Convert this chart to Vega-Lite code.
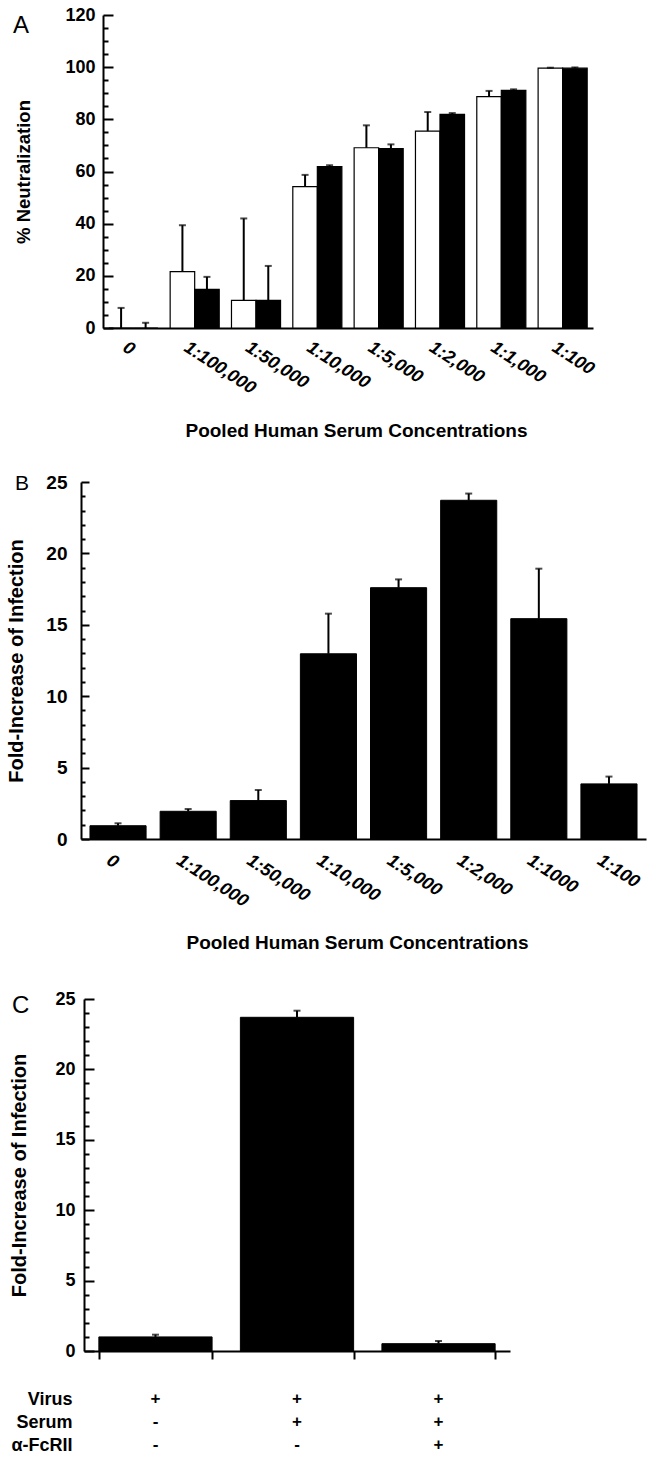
{
  "$schema": "https://vega.github.io/schema/vega-lite/v6.json",
  "background": "white",
  "padding": {"left": 6, "top": 6, "right": 5, "bottom": 0},
  "config": {
    "font": "Liberation Sans",
    "view": {"stroke": null},
    "axis": {"domainColor": "black", "domainWidth": 2, "tickColor": "black", "tickWidth": 2, "labelColor": "black", "titleColor": "black", "labelFontWeight": "bold", "titleFontWeight": "bold", "grid": false, "labelFont": "Liberation Sans", "titleFont": "Liberation Sans"},
    "title": {"font": "Liberation Sans", "color": "black", "fontWeight": "normal", "fontSize": 24, "anchor": "start", "frame": "group", "offset": 0}
  },
  "datasets": {
    "neut": [
      {"conc": "0", "series": "open", "value": 0, "upper": 7.7},
      {"conc": "0", "series": "closed", "value": 0, "upper": 2},
      {"conc": "1:100,000", "series": "open", "value": 21.6, "upper": 39.4},
      {"conc": "1:100,000", "series": "closed", "value": 14.8, "upper": 19.6},
      {"conc": "1:50,000", "series": "open", "value": 10.6, "upper": 42},
      {"conc": "1:50,000", "series": "closed", "value": 10.6, "upper": 23.8},
      {"conc": "1:10,000", "series": "open", "value": 54.2, "upper": 58.7},
      {"conc": "1:10,000", "series": "closed", "value": 61.9, "upper": 62.4},
      {"conc": "1:5,000", "series": "open", "value": 69.1, "upper": 77.7},
      {"conc": "1:5,000", "series": "closed", "value": 68.8, "upper": 70.4},
      {"conc": "1:2,000", "series": "open", "value": 75.5, "upper": 82.8},
      {"conc": "1:2,000", "series": "closed", "value": 81.9, "upper": 82.4},
      {"conc": "1:1,000", "series": "open", "value": 88.7, "upper": 90.9},
      {"conc": "1:1,000", "series": "closed", "value": 91.1, "upper": 91.5},
      {"conc": "1:100", "series": "open", "value": 99.6, "upper": 99.8},
      {"conc": "1:100", "series": "closed", "value": 99.6, "upper": 99.9}
    ],
    "fold": [
      {"conc": "0", "value": 0.93, "upper": 1.1},
      {"conc": "1:100,000", "value": 1.94, "upper": 2.1},
      {"conc": "1:50,000", "value": 2.69, "upper": 3.43},
      {"conc": "1:10,000", "value": 12.97, "upper": 15.78},
      {"conc": "1:5,000", "value": 17.6, "upper": 18.18},
      {"conc": "1:2,000", "value": 23.72, "upper": 24.19},
      {"conc": "1:1000", "value": 15.43, "upper": 18.93},
      {"conc": "1:100", "value": 3.86, "upper": 4.37}
    ],
    "block": [
      {"cond": "Virus", "value": 1.0, "upper": 1.16},
      {"cond": "Virus + Serum", "value": 23.7, "upper": 24.17},
      {"cond": "Virus + Serum + α-FcRII", "value": 0.52, "upper": 0.71}
    ],
    "table": [
      {"row": "Virus", "cond": "Virus", "sym": "+"},
      {"row": "Virus", "cond": "Virus + Serum", "sym": "+"},
      {"row": "Virus", "cond": "Virus + Serum + α-FcRII", "sym": "+"},
      {"row": "Serum", "cond": "Virus", "sym": "-"},
      {"row": "Serum", "cond": "Virus + Serum", "sym": "+"},
      {"row": "Serum", "cond": "Virus + Serum + α-FcRII", "sym": "+"},
      {"row": "α-FcRII", "cond": "Virus", "sym": "-"},
      {"row": "α-FcRII", "cond": "Virus + Serum", "sym": "-"},
      {"row": "α-FcRII", "cond": "Virus + Serum + α-FcRII", "sym": "+"}
    ]
  },
  "spacing": 38,
  "vconcat": [
    {
      "spacing": 33,
      "vconcat": [
        {
          "width": 512,
          "height": 313,
          "title": {"text": "A", "dx": -68, "dy": 36, "fontSize": 24},
          "data": {"name": "neut"},
          "encoding": {
            "x": {
              "field": "conc", "type": "nominal", "sort": null,
              "scale": {"type": "band", "range": [22, 512], "paddingInner": 0.2, "paddingOuter": 0.095},
              "axis": {"title": "Pooled Human Serum Concentrations", "titleFontSize": 19, "titleX": 275, "titleY": 93, "titleBaseline": "top", "labelAngle": 33, "labelAlign": "left", "labelBaseline": "top", "labelFontStyle": "italic", "labelFontSize": 18, "labelPadding": 10, "labelOffset": -4, "ticks": false, "labelOverlap": false, "labelBound": false}
            },
            "xOffset": {"field": "series", "type": "nominal", "sort": ["open", "closed"], "scale": {"paddingInner": 0, "paddingOuter": 0}},
            "y": {
              "field": "value", "type": "quantitative",
              "scale": {"domain": [0, 120], "nice": false},
              "axis": {"title": "% Neutralization", "titleFontSize": 18.5, "titleX": -70, "titleY": 156.5, "values": [0,5,10,15,20,25,30,35,40,45,50,55,60,65,70,75,80,85,90,95,100,105,110,115,120], "labelExpr": "datum.value % 20 === 0 ? datum.label : ''", "tickSize": {"condition": {"test": "datum.value % 20 === 0", "value": -10}, "value": -5}, "labelFontSize": 18, "labelPadding": 18, "offset": -22}
            }
          },
          "layer": [
            {
              "mark": {"type": "bar", "stroke": "black", "strokeWidth": 1.2},
              "encoding": {"fill": {"field": "series", "type": "nominal", "scale": {"domain": ["open", "closed"], "range": ["white", "black"]}, "legend": null}}
            },
            {"mark": {"type": "rule", "color": "black", "strokeWidth": 2}, "encoding": {"y2": {"field": "upper"}}},
            {"mark": {"type": "tick", "color": "black", "thickness": 2, "size": 7}, "encoding": {"y": {"field": "upper", "type": "quantitative", "title": "% Neutralization"}}}
          ]
        },
        {
          "width": 565,
          "height": 357,
          "title": {"text": "B", "dx": -66, "dy": 25, "fontSize": 21},
          "data": {"name": "fold"},
          "encoding": {
            "x": {
              "field": "conc", "type": "nominal", "sort": null,
              "scale": {"type": "band", "paddingInner": 0.2, "paddingOuter": 0.128},
              "axis": {"title": "Pooled Human Serum Concentrations", "titleFontSize": 19, "titleX": 276, "titleY": 94, "titleBaseline": "top", "labelAngle": 33, "labelAlign": "left", "labelBaseline": "top", "labelFontStyle": "italic", "labelFontSize": 18, "labelPadding": 12, "labelOffset": -5, "ticks": false, "labelOverlap": false, "labelBound": false}
            },
            "y": {
              "field": "value", "type": "quantitative",
              "scale": {"domain": [0, 25], "nice": false},
              "axis": {"title": "Fold-Increase of Infection", "titleFontSize": 20, "titleX": -55, "titleY": 178.5, "values": [0,1,2,3,4,5,6,7,8,9,10,11,12,13,14,15,16,17,18,19,20,21,22,23,24,25], "labelExpr": "datum.value % 5 === 0 ? datum.label : ''", "tickSize": {"condition": {"test": "datum.value % 5 === 0", "value": -8}, "value": -4}, "labelFontSize": 19, "labelPadding": 22}
            }
          },
          "layer": [
            {"mark": {"type": "bar", "color": "black", "stroke": "black", "strokeWidth": 1}},
            {"mark": {"type": "rule", "color": "black", "strokeWidth": 2}, "encoding": {"y2": {"field": "upper"}}},
            {"mark": {"type": "tick", "color": "black", "thickness": 2, "size": 7}, "encoding": {"y": {"field": "upper", "type": "quantitative", "title": "Fold-Increase of Infection"}}}
          ]
        }
      ]
    },
    {
      "spacing": 30,
      "vconcat": [
        {
          "width": 429,
          "height": 352,
          "title": {"text": "C", "dx": -69, "dy": 32, "fontSize": 24},
          "data": {"name": "block"},
          "encoding": {
            "x": {
              "field": "cond", "type": "nominal", "sort": null,
              "scale": {"type": "band", "range": [3, 429], "paddingInner": 0.2, "paddingOuter": 0.105},
              "axis": {"title": null, "labels": false, "ticks": true, "tickBand": "extent", "tickSize": 8, "tickWidth": 2}
            },
            "y": {
              "field": "value", "type": "quantitative",
              "scale": {"domain": [0, 25], "nice": false},
              "axis": {"title": "Fold-Increase of Infection", "titleFontSize": 20, "titleX": -55, "titleY": 176, "values": [0,1,2,3,4,5,6,7,8,9,10,11,12,13,14,15,16,17,18,19,20,21,22,23,24,25], "labelExpr": "datum.value % 5 === 0 ? datum.label : ''", "tickSize": {"condition": {"test": "datum.value % 5 === 0", "value": -10}, "value": -5}, "labelFontSize": 18, "labelPadding": 19, "offset": -3}
            }
          },
          "layer": [
            {"mark": {"type": "bar", "color": "black", "stroke": "black", "strokeWidth": 1}},
            {"mark": {"type": "rule", "color": "black", "strokeWidth": 2}, "encoding": {"y2": {"field": "upper"}}},
            {"mark": {"type": "tick", "color": "black", "thickness": 2, "size": 7}, "encoding": {"y": {"field": "upper", "type": "quantitative", "title": "Fold-Increase of Infection"}}}
          ]
        },
        {
          "width": 429,
          "height": 46,
          "data": {"name": "table"},
          "mark": {"type": "text", "fontSize": 17, "fontWeight": "bold", "color": "black"},
          "encoding": {
            "x": {"field": "cond", "type": "nominal", "sort": ["Virus", "Virus + Serum", "Virus + Serum + α-FcRII"], "scale": {"type": "band", "range": [3, 429], "paddingInner": 0.2, "paddingOuter": 0.105}, "axis": null},
            "y": {"field": "row", "type": "ordinal", "sort": ["Virus", "Serum", "α-FcRII"], "scale": {"type": "point", "padding": 0}, "axis": {"title": null, "domain": false, "ticks": false, "labelFontSize": 18, "labelPadding": 9}},
            "text": {"field": "sym"}
          }
        }
      ]
    }
  ]
}
